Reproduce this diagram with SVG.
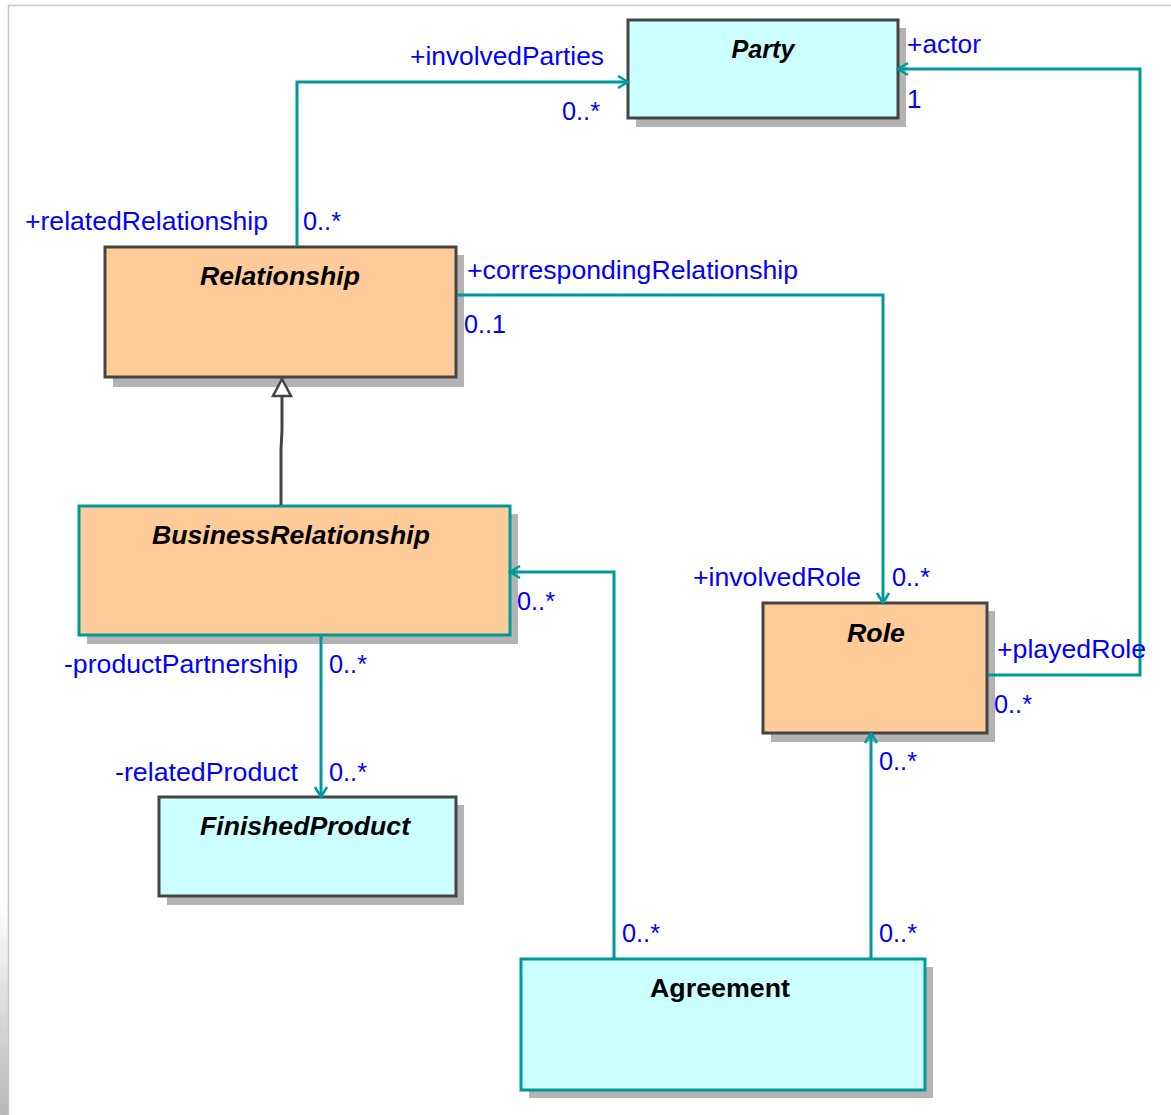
<svg xmlns="http://www.w3.org/2000/svg" width="1171" height="1115" viewBox="0 0 1171 1115">
<defs>
<style>
.shadow{fill:#b3b3b3}
.cyan{fill:#ccffff}
.orange{fill:#ffcc99}
.bd{stroke:#444444;stroke-width:3}
.bt{stroke:#009999;stroke-width:3}
.title{font-family:"Liberation Sans",Arial,sans-serif;font-size:25px;font-weight:bold;font-style:italic;fill:#000;text-anchor:middle}
.lbl{font-family:"Liberation Sans",Arial,sans-serif;font-size:26px;fill:#0000ff}
.conn{fill:none;stroke:#009999;stroke-width:3}
</style>
<marker id="open" viewBox="-12 -8 14 16" refX="0" refY="0" markerWidth="14" markerHeight="16" markerUnits="userSpaceOnUse" orient="auto">
<path d="M-10,-6 L0,0 L-10,6" fill="none" stroke="#009999" stroke-width="2.5"/>
</marker>
<linearGradient id="edge" x1="0" y1="0" x2="0" y2="1">
<stop offset="0" stop-color="#ffffff"/>
<stop offset="1" stop-color="#b8b8b8"/>
</linearGradient>
</defs>
<rect width="1171" height="1115" fill="#ffffff"/>
<rect x="0" y="900" width="8" height="215" fill="url(#edge)"/>
<path d="M8.5,1115 V5.5 H1171" fill="none" stroke="#c8c8c8" stroke-width="1.5"/>

<g id="party">
<rect class="shadow" x="636" y="28" width="270" height="99"/>
<rect class="cyan bd" x="628" y="20" width="270" height="98"/>
<text class="title" x="763" y="58" textLength="63" lengthAdjust="spacingAndGlyphs">Party</text>
</g>

<g id="relationship">
<rect class="shadow" x="113" y="255" width="351" height="132"/>
<rect class="orange bd" x="105" y="247" width="351" height="130"/>
<text class="title" x="280" y="285" textLength="160" lengthAdjust="spacingAndGlyphs">Relationship</text>
</g>

<g id="businessrelationship">
<rect class="shadow" x="87" y="514" width="431" height="130"/>
<rect class="orange bt" x="79" y="506" width="431" height="129"/>
<text class="title" x="291" y="544" textLength="278" lengthAdjust="spacingAndGlyphs">BusinessRelationship</text>
</g>

<g id="role">
<rect class="shadow" x="771" y="611" width="224" height="131"/>
<rect class="orange bd" x="763" y="603" width="224" height="130"/>
<text class="title" x="876" y="642" textLength="58" lengthAdjust="spacingAndGlyphs">Role</text>
</g>

<g id="finishedproduct">
<rect class="shadow" x="167" y="805" width="297" height="100"/>
<rect class="cyan bd" x="159" y="797" width="297" height="99"/>
<text class="title" x="305" y="835" textLength="210" lengthAdjust="spacingAndGlyphs">FinishedProduct</text>
</g>

<g id="agreement">
<rect class="shadow" x="529" y="967" width="404" height="131"/>
<rect class="cyan bt" x="521" y="959" width="404" height="131"/>
<text class="title" x="720" y="997" style="font-style:normal" textLength="140" lengthAdjust="spacingAndGlyphs">Agreement</text>
</g>

<g id="connectors">
<path class="conn" d="M297,246 V82 H628" marker-end="url(#open)"/>
<path class="conn" d="M457,295 H883 V603" marker-end="url(#open)"/>
<path class="conn" d="M988,675 H1140 V69 H898" marker-end="url(#open)"/>
<path class="conn" d="M321,636 V797" marker-end="url(#open)"/>
<path class="conn" d="M614,958 V572 H510" marker-end="url(#open)"/>
<path class="conn" d="M871,958 V733" marker-end="url(#open)"/>
<path d="M281,505 V450 L282,430 V396" fill="none" stroke="#444444" stroke-width="3"/>
<path d="M282,379 L291,396 H273 Z" fill="#ffffff" stroke="#444444" stroke-width="2.5"/>
</g>

<g id="labels">
<text class="lbl" x="410" y="65" textLength="194" lengthAdjust="spacingAndGlyphs">+involvedParties</text>
<text class="lbl" x="562" y="120" textLength="38" lengthAdjust="spacingAndGlyphs">0..*</text>
<text class="lbl" x="25" y="230" textLength="243" lengthAdjust="spacingAndGlyphs">+relatedRelationship</text>
<text class="lbl" x="303" y="230" textLength="38" lengthAdjust="spacingAndGlyphs">0..*</text>
<text class="lbl" x="907" y="53" textLength="74" lengthAdjust="spacingAndGlyphs">+actor</text>
<text class="lbl" x="907" y="108">1</text>
<text class="lbl" x="467" y="279" textLength="331" lengthAdjust="spacingAndGlyphs">+correspondingRelationship</text>
<text class="lbl" x="464" y="333" textLength="42" lengthAdjust="spacingAndGlyphs">0..1</text>
<text class="lbl" x="693" y="586" textLength="168" lengthAdjust="spacingAndGlyphs">+involvedRole</text>
<text class="lbl" x="892" y="586" textLength="38" lengthAdjust="spacingAndGlyphs">0..*</text>
<text class="lbl" x="997" y="658" textLength="149" lengthAdjust="spacingAndGlyphs">+playedRole</text>
<text class="lbl" x="994" y="713" textLength="38" lengthAdjust="spacingAndGlyphs">0..*</text>
<text class="lbl" x="517" y="610" textLength="38" lengthAdjust="spacingAndGlyphs">0..*</text>
<text class="lbl" x="64" y="673" textLength="234" lengthAdjust="spacingAndGlyphs">-productPartnership</text>
<text class="lbl" x="329" y="673" textLength="38" lengthAdjust="spacingAndGlyphs">0..*</text>
<text class="lbl" x="115" y="781" textLength="183" lengthAdjust="spacingAndGlyphs">-relatedProduct</text>
<text class="lbl" x="329" y="781" textLength="38" lengthAdjust="spacingAndGlyphs">0..*</text>
<text class="lbl" x="879" y="770" textLength="38" lengthAdjust="spacingAndGlyphs">0..*</text>
<text class="lbl" x="622" y="942" textLength="38" lengthAdjust="spacingAndGlyphs">0..*</text>
<text class="lbl" x="879" y="942" textLength="38" lengthAdjust="spacingAndGlyphs">0..*</text>
</g>
</svg>
